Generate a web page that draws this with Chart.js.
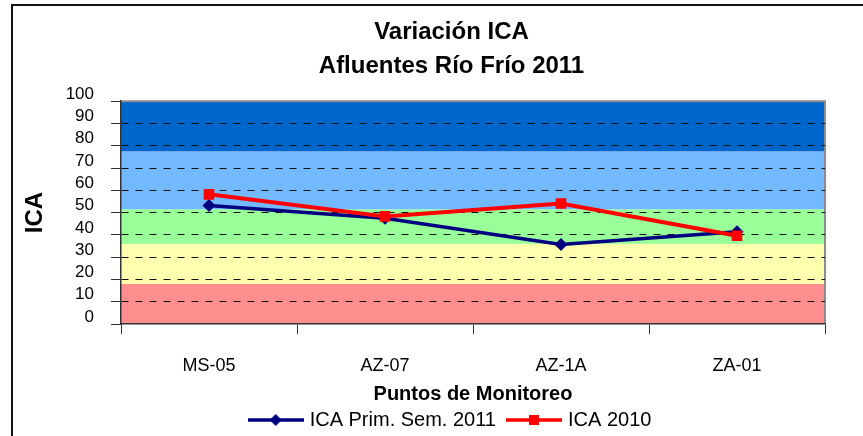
<!DOCTYPE html>
<html>
<head>
<meta charset="utf-8">
<script src="https://cdn.jsdelivr.net/npm/chart.js@4.4.0/dist/chart.umd.min.js"></script>
<style>
  html, body { margin: 0; padding: 0; background: #fff; }
  #wrap { position: relative; width: 863px; height: 436px; overflow: hidden; }
  #frame { position: absolute; left: 11px; top: 4px; width: 900px; height: 500px;
           border-left: 2px solid #111; border-top: 2px solid #111; pointer-events: none; }
  canvas { position: absolute; left: 0; top: 0; }
</style>
</head>
<body>
<div id="wrap">
  <canvas id="chart" width="863" height="436"></canvas>
  <div id="frame"></div>
</div>
<script>
// data
const puntos = ['MS-05', 'AZ-07', 'AZ-1A', 'ZA-01'];
const ica2011 = [53.2, 47.5, 35.7, 41.4];
const ica2010 = [58.2, 48.3, 54.1, 39.6];
const yTicks = [0, 10, 20, 30, 40, 50, 60, 70, 80, 90, 100];

// quality bands behind the plot
const bandLimits = [0, 18, 36, 51.5, 77.5, 100];
const bandColors = ['#ff8f8f', '#ffffad', '#99ff99', '#73b9ff', '#0066cc'];

Chart.defaults.font.family = "'Liberation Sans', Arial, sans-serif";
Chart.defaults.color = '#000';

// legend icon: short line with the marker in the middle
const legendIcon = (color, shape) => {
  const c = document.createElement('canvas');
  c.width = 56; c.height = 14;
  const g = c.getContext('2d');
  g.strokeStyle = color;
  g.lineWidth = 3.5;
  g.beginPath(); g.moveTo(0, 7); g.lineTo(56, 7); g.stroke();
  g.fillStyle = color;
  g.beginPath();
  if (shape === 'diamond') {
    g.moveTo(28, 1); g.lineTo(34, 7); g.lineTo(28, 13); g.lineTo(22, 7); g.closePath();
  } else {
    g.rect(23, 2, 10, 10);
  }
  g.fill();
  return c;
};
const icons = [legendIcon('#000080', 'diamond'), legendIcon('#ff0000', 'square')];

const bandsPlugin = {
  id: 'bands',
  beforeDraw(chart) {
    const { ctx, chartArea: a, scales: { y } } = chart;
    ctx.save();
    bandColors.forEach((col, i) => {
      const top = y.getPixelForValue(bandLimits[i + 1]);
      const bottom = y.getPixelForValue(bandLimits[i]);
      ctx.fillStyle = col;
      ctx.fillRect(a.left, top, a.right - a.left, bottom - top);
    });
    ctx.strokeStyle = '#8c8c8c';
    ctx.lineWidth = 2;
    ctx.beginPath();
    ctx.moveTo(a.left, a.top);
    ctx.lineTo(a.right, a.top);
    ctx.lineTo(a.right, a.bottom);
    ctx.stroke();
    ctx.restore();
  }
};

new Chart(document.getElementById('chart'), {
  type: 'line',
  data: {
    labels: puntos,
    datasets: [
      {
        label: 'ICA Prim. Sem. 2011',
        data: ica2011,
        borderColor: '#000080',
        backgroundColor: '#000080',
        borderWidth: 3.5,
        pointStyle: 'rectRot',
        pointRadius: 6.5,
        pointBorderWidth: 0,
        tension: 0,
        order: 1
      },
      {
        label: 'ICA 2010',
        data: ica2010,
        borderColor: '#ff0000',
        backgroundColor: '#ff0000',
        borderWidth: 4,
        pointStyle: 'rect',
        pointRadius: 7.5,
        pointBorderWidth: 0,
        tension: 0,
        order: 0
      }
    ]
  },
  options: {
    responsive: false,
    animation: false,
    devicePixelRatio: 1,
    layout: { padding: { left: 0, right: -40, top: 0, bottom: -4 } },
    plugins: {
      tooltip: { enabled: false },
      title: {
        display: true,
        text: ['Variación ICA', 'Afluentes Río Frío 2011'],
        color: '#000',
        font: { size: 24, weight: 'bold', lineHeight: 1.4 },
        padding: { top: 16, bottom: 18 }
      },
      legend: {
        position: 'bottom',
        labels: {
          usePointStyle: true,
          pointStyleWidth: 48,
          padding: 14,
          color: '#000',
          font: { size: 20 },
          sort: (a, b) => a.datasetIndex - b.datasetIndex,
          generateLabels: (chart) =>
            Chart.defaults.plugins.legend.labels.generateLabels(chart)
              .map(l => ({ ...l, pointStyle: icons[l.datasetIndex] }))
        }
      }
    },
    scales: {
      x: {
        offset: true,
        grid: { offset: true, drawOnChartArea: false, tickLength: 10, color: '#333', tickColor: '#333' },
        border: { color: '#333', width: 1.5 },
        ticks: { padding: 21, font: { size: 18 }, color: '#000' },
        title: {
          display: true,
          text: 'Puntos de Monitoreo',
          color: '#000',
          font: { size: 20, weight: 'bold', lineHeight: 1 },
          padding: { top: 0, bottom: -8 }
        },
        afterFit: (s) => { s.height = 72; }
      },
      y: {
        min: 0,
        max: 100,
        afterBuildTicks: (s) => { s.ticks = yTicks.map(v => ({ value: v })); },
        grid: {
          tickLength: 10,
          color: (c) => (c.tick && (c.tick.value === 0 || c.tick.value === 100)) ? 'rgba(0,0,0,0)' : '#111',
          tickColor: '#333',
          lineWidth: 1
        },
        border: { color: '#333', width: 1.5, dash: (c) => c.tick ? [7, 7] : [] },
        ticks: { autoSkip: false, padding: 17, labelOffset: -7, font: { size: 17 }, color: '#000' },
        title: {
          display: true,
          text: 'ICA',
          color: '#000',
          font: { size: 24, weight: 'bold' },
          padding: { top: 21, bottom: 0 }
        },
        afterFit: (s) => { s.width = 121; }
      },
      yR: {
        position: 'right',
        min: 0,
        max: 100,
        grid: { display: false },
        border: { display: false },
        ticks: { display: false },
        afterFit: (s) => { s.width = 78; }
      }
    }
  },
  plugins: [bandsPlugin]
});
</script>
</body>
</html>
